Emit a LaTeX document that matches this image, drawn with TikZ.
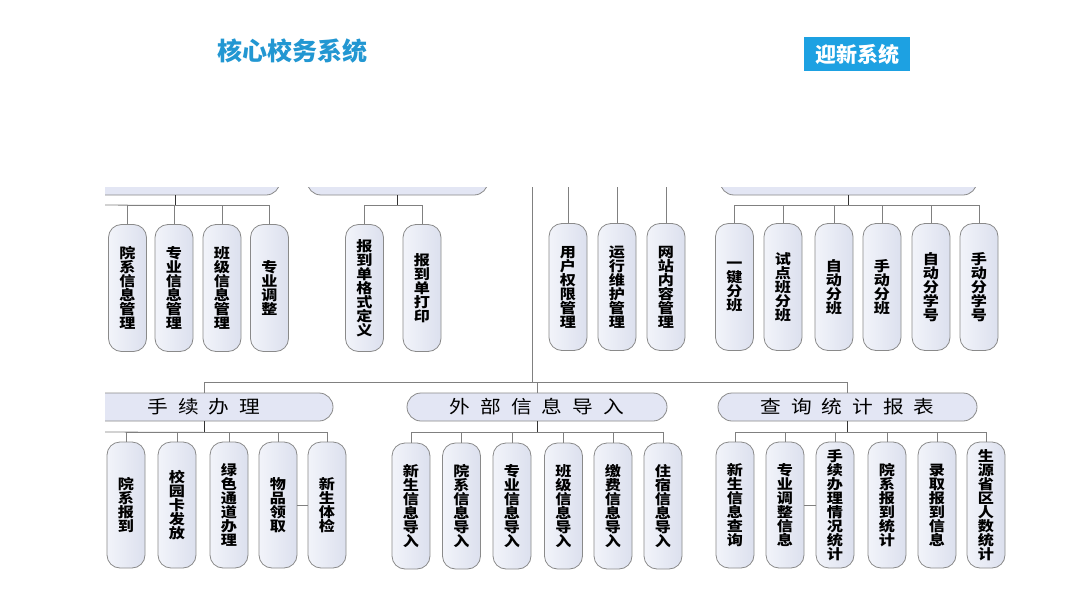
\documentclass[tikz,border=0pt]{standalone}
\usepackage{fontspec}
\newfontfamily\cjk{Noto Sans CJK SC}
\newfontfamily\cjkw{Noto Sans CJK SC}[FakeStretch=1.15]
\usetikzlibrary{calc}
\definecolor{titleblue}{HTML}{2297D2}
\definecolor{boxblue}{HTML}{1DA1E2}
\definecolor{pillA}{HTML}{F2F4FA}
\definecolor{pillB}{HTML}{DCE0EE}
\definecolor{bandfill}{HTML}{E3E6F4}
\definecolor{edgec}{HTML}{8A8A8A}
\definecolor{wirec}{HTML}{808080}
\newcommand\bgap{\hspace{10pt}}
\tikzset{
 pill/.style={draw=edgec, line width=0.8pt, left color=pillA, right color=pillB,
   rounded corners=13pt, minimum width=38pt, inner sep=0pt, align=center,
   font={\cjkw\bfseries\fontsize{14}{14}\selectfont}},
 toppill/.style={pill, minimum height=127pt},
 botpill/.style={pill, minimum height=126pt},
 band/.style={draw=edgec, line width=0.8pt, fill=bandfill, rounded corners=14pt,
   minimum height=28pt, inner sep=0pt, font={\cjkw\fontsize{18}{20}\selectfont}},
 wire/.style={draw=wirec, line width=0.8pt},
 stub/.style={draw=black!80, line width=1pt},
}
\begin{document}
\begin{tikzpicture}[x=1pt,y=-1pt]
\path[use as bounding box] (0,0) rectangle (1080,608);
\fill[white] (0,0) rectangle (1080,608);

% titles
\node[text=titleblue, font={\cjk\bfseries\fontsize{25}{27}\selectfont}] (t1) at (292,51) {核心校务系统};
\node[fill=boxblue, text=white, minimum width=106pt, minimum height=34pt, inner sep=0pt,
      font={\cjk\bfseries\fontsize{21}{22}\selectfont}] (t2) at (857,54) {迎新系统};

\begin{scope}
\clip (105,187) rectangle (1080,608);

% ---------- top bands (cut off) ----------
\node[band, minimum width=210pt] (bA) at (175,181) {};
\node[band, minimum width=181pt] (bB) at (397.5,181) {};
\node[band, minimum width=257pt] (bC) at (848.5,181) {};

% ---------- top pills ----------
\node[toppill] (a1) at (127.5,288) {院\\系\\信\\息\\管\\理};
\node[toppill] (a2) at (174,288) {专\\业\\信\\息\\管\\理};
\node[toppill] (a3) at (222,288) {班\\级\\信\\息\\管\\理};
\node[toppill] (a4) at (269.5,288) {专\\业\\调\\整};

\node[toppill] (b1) at (364.5,288) {报\\到\\单\\格\\式\\定\\义};
\node[toppill] (b2) at (422,288) {报\\到\\单\\打\\印};

\node[toppill] (m1) at (568,287) {用\\户\\权\\限\\管\\理};
\node[toppill] (m2) at (617,287) {运\\行\\维\\护\\管\\理};
\node[toppill] (m3) at (666,287) {网\\站\\内\\容\\管\\理};

\node[toppill] (c1) at (734.5,287) {一\\键\\分\\班};
\node[toppill] (c2) at (783,287) {试\\点\\班\\分\\班};
\node[toppill] (c3) at (834,287) {自\\动\\分\\班};
\node[toppill] (c4) at (882,287) {手\\动\\分\\班};
\node[toppill] (c5) at (931,287) {自\\动\\分\\学\\号};
\node[toppill] (c6) at (979,287) {手\\动\\分\\学\\号};

% top connectors
\coordinate (jA) at ($(bA.south)+(0,10)$);
\coordinate (lA) at (100,205);
\draw[stub] (bA.south) -- (jA);
\draw[wire] (jA) -- (lA);
\foreach \n in {a1,a2,a3,a4} \draw[wire] (jA) -| (\n.north);

\coordinate (jB) at ($(bB.south)+(0,10)$);
\draw[stub] (bB.south) -- (jB);
\foreach \n in {b1,b2} \draw[wire] (jB) -| (\n.north);

\coordinate (jC) at ($(bC.south)+(0,10)$);
\draw[stub] (bC.south) -- (jC);
\foreach \n in {c1,c2,c3,c4,c5,c6} \draw[wire] (jC) -| (\n.north);

\foreach \n in {m1,m2,m3} \draw[wire] (\n.north) -- ++(0,-60);

% ---------- trunk ----------
\coordinate (trunkTop) at (532,150);
\coordinate (hub) at (532,382);
\draw[wire] (trunkTop) -- (hub);

% ---------- bottom bands ----------
\node[band, minimum width=258pt] (d1) at (204,407) {手\bgap 续\bgap 办\bgap 理};
\node[band, minimum width=260pt] (d2) at (537,407) {外\bgap 部\bgap 信\bgap 息\bgap 导\bgap 入};
\node[band, minimum width=259pt] (d3) at (847.5,407) {查\bgap 询\bgap 统\bgap 计\bgap 报\bgap 表};

\draw[wire] (d1.north) -- (d1.north |- hub) -- (d3.north |- hub) -- (d3.north);
\draw[wire] (hub) -| (d2.north);

% ---------- bottom pills ----------
\node[botpill] (e1) at (126,505) {院\\系\\报\\到};
\node[botpill] (e2) at (177,505) {校\\园\\卡\\发\\放};
\node[botpill] (e3) at (229,505) {绿\\色\\通\\道\\办\\理};
\node[botpill] (e4) at (278,505) {物\\品\\领\\取};
\node[botpill] (e5) at (327,505) {新\\生\\体\\检};

\node[botpill] (f1) at (411,506) {新\\生\\信\\息\\导\\入};
\node[botpill] (f2) at (461.5,506) {院\\系\\信\\息\\导\\入};
\node[botpill] (f3) at (512,506) {专\\业\\信\\息\\导\\入};
\node[botpill] (f4) at (563.5,506) {班\\级\\信\\息\\导\\入};
\node[botpill] (f5) at (613,506) {缴\\费\\信\\息\\导\\入};
\node[botpill] (f6) at (663,506) {住\\宿\\信\\息\\导\\入};

\node[botpill] (g1) at (735,505) {新\\生\\信\\息\\查\\询};
\node[botpill] (g2) at (785,505) {专\\业\\调\\整\\信\\息};
\node[botpill] (g3) at (835,505) {手\\续\\办\\理\\情\\况\\统\\计};
\node[botpill] (g4) at (887,505) {院\\系\\报\\到\\统\\计};
\node[botpill] (g5) at (937,505) {录\\取\\报\\到\\信\\息};
\node[botpill] (g6) at (986,505) {生\\源\\省\\区\\人\\数\\统\\计};

% bottom connectors
\coordinate (jD1) at ($(d1.south)+(0,11)$);
\coordinate (lD1) at (100,432);
\draw[stub] (d1.south) -- (jD1);
\draw[wire] (jD1) -- (lD1);
\foreach \n in {e1,e2,e3,e4,e5} \draw[wire] (jD1) -| (\n.north);

\coordinate (jD2) at ($(d2.south)+(0,11)$);
\draw[stub] (d2.south) -- (jD2);
\foreach \n in {f1,f2,f3,f4,f5,f6} \draw[wire] (jD2) -| (\n.north);

\coordinate (jD3) at ($(d3.south)+(0,11)$);
\draw[stub] (d3.south) -- (jD3);
\foreach \n in {g1,g2,g3,g4,g5,g6} \draw[wire] (jD3) -| (\n.north);

% short stray links
\draw[wire] (e4) -- (e5);
\draw[wire] (g2) -- (g3);
\end{scope}
\end{tikzpicture}
\end{document}
